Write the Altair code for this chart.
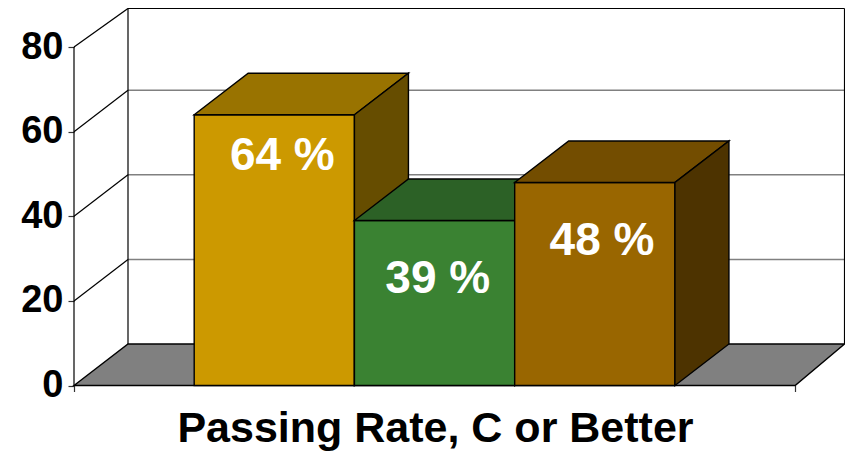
import altair as alt
import pandas as pd

# Values
series = ["A", "B", "C"]
values = [64, 39, 48]
labels = ["64 %", "39 %", "48 %"]
front_colors = ["#CC9900", "#3A8232", "#996600"]
top_colors = ["#997300", "#2C6126", "#734D00"]
side_colors = ["#664D00", "#1D4119", "#4D3300"]
label_values = [54.25, 25.15, 34.15]   # vertical anchor of each label, in axis units
label_shift = [0.05, 0.02, 0.045]      # horizontal shift from the bar centre, in bar widths
y_ticks = [0, 20, 40, 60, 80]
grid_lines = [20, 40, 60, 80]
x_title = "Passing Rate, C or Better"

# Oblique projection, in axis units
PX_X = 160.25         # pixels per bar width
PX_Y = 4.23           # pixels per percentage point
DX = 54 / PX_X
DV = 41.5 / PX_Y
GAP = 0.75
BAR = 1.0
AXIS_END = 2 * GAP + 3 * BAR
W = 771
H = 377.5
X_MAX = W / PX_X
Y_MAX = H / PX_Y
WALL_RIGHT = min(AXIS_END + DX, X_MAX - 0.003)   # the page width trims the far right of the wall
WALL_TOP = min(80 + DV, Y_MAX - 0.1)             # the page margin trims the very top of the wall

x_scale = alt.Scale(domain=[0, X_MAX], nice=False, zero=False)
y_scale = alt.Scale(domain=[0, Y_MAX], nice=False, zero=False)
x_axis = alt.Axis(
    values=[0, AXIS_END],
    domain=False,
    grid=False,
    labels=False,
    ticks=True,
    tickSize=6,
    tickColor="#333333",
    tickWidth=1.2,
    title=x_title,
    titleFont="Liberation Sans",
    titleFontWeight="bold",
    titleFontSize=43,
    titleColor="#000000",
    titleX=361,
    titleY=56,
    titleAlign="center",
    titleBaseline="alphabetic",
)
y_axis = alt.Axis(
    values=y_ticks,
    domain=False,
    grid=False,
    format="d",
    tickSize=6,
    tickColor="#333333",
    tickWidth=1.2,
    labelFont="Liberation Sans",
    labelFontWeight="bold",
    labelFontSize=38,
    labelColor="#000000",
    labelPadding=5,
    title=None,
)
XE = dict(scale=x_scale, axis=x_axis)
YE = dict(scale=y_scale, axis=y_axis)
EDGE = "#000000"


def area(rows, fill, sw=1.4):
    df = pd.DataFrame(rows, columns=["x", "y", "y2"])
    return alt.Chart(df).mark_area(fill=fill, stroke=EDGE, strokeWidth=sw, opacity=1).encode(
        x=alt.X("x:Q", **XE),
        y=alt.Y("y:Q", **YE),
        y2="y2:Q",
    )


def lid(a, b, h, fill):
    """Parallelogram running back from the front edge a..b at height h."""
    return area([
        [a, h, h],
        [a + DX, h, h + DV],
        [b, h, h + DV],
        [b + DX, h + DV, h + DV],
    ], fill)


def rules(rows, color, sw):
    df = pd.DataFrame(rows, columns=["x", "x2", "y", "y2"])
    return alt.Chart(df).mark_rule(color=color, strokeWidth=sw).encode(
        x=alt.X("x:Q", **XE),
        x2="x2:Q",
        y=alt.Y("y:Q", **YE),
        y2="y2:Q",
    )


layers = []

# Wall grid lines, then the wall frame
layers.append(rules([[DX, WALL_RIGHT, v + DV, v + DV] for v in grid_lines[:-1]], "#808080", 1.5))
layers.append(rules(
    [[DX, WALL_RIGHT, WALL_TOP, WALL_TOP], [DX, DX, DV, WALL_TOP], [WALL_RIGHT, WALL_RIGHT, DV, WALL_TOP], [0, 0, 0, 80]]
    + [[0, DX, v, v + DV] for v in grid_lines[:-1]]
    + [[0, DX, 80, WALL_TOP]],
    EDGE, 1.2,
))

# Floor
layers.append(area([
    [0, 0, 0],
    [DX, 0, DV],
    [AXIS_END, 0, DV],
    [WALL_RIGHT, DV, DV],
], "#808080"))

# Bars, left to right
for i, v in enumerate(values):
    a = GAP + i * BAR
    b = a + BAR
    layers.append(area([[a, 0, v], [b, 0, v]], front_colors[i]))
    layers.append(lid(a, b, v, top_colors[i]))
    layers.append(area([[b, 0, v], [b + DX, DV, v + DV]], side_colors[i]))

# Value labels
label_df = pd.DataFrame({
    "x": [GAP + i * BAR + BAR / 2 + label_shift[i] for i in range(len(values))],
    "y": label_values,
    "t": labels,
})
layers.append(
    alt.Chart(label_df).mark_text(
        font="Liberation Sans", fontWeight="bold", fontSize=46, color="#FFFFFF",
        align="center", baseline="middle",
    ).encode(x=alt.X("x:Q", **XE), y=alt.Y("y:Q", **YE), text="t:N")
)

chart = alt.layer(*layers).properties(
    width=W,
    height=H,
    autosize=alt.AutoSizeParams(type="none"),
    padding={"left": 66, "top": 0, "right": 0, "bottom": 65.5},
    background="#FFFFFF",
).configure_view(stroke=None)

chart.save("out.html", embed_options={"renderer": "svg", "actions": False})
